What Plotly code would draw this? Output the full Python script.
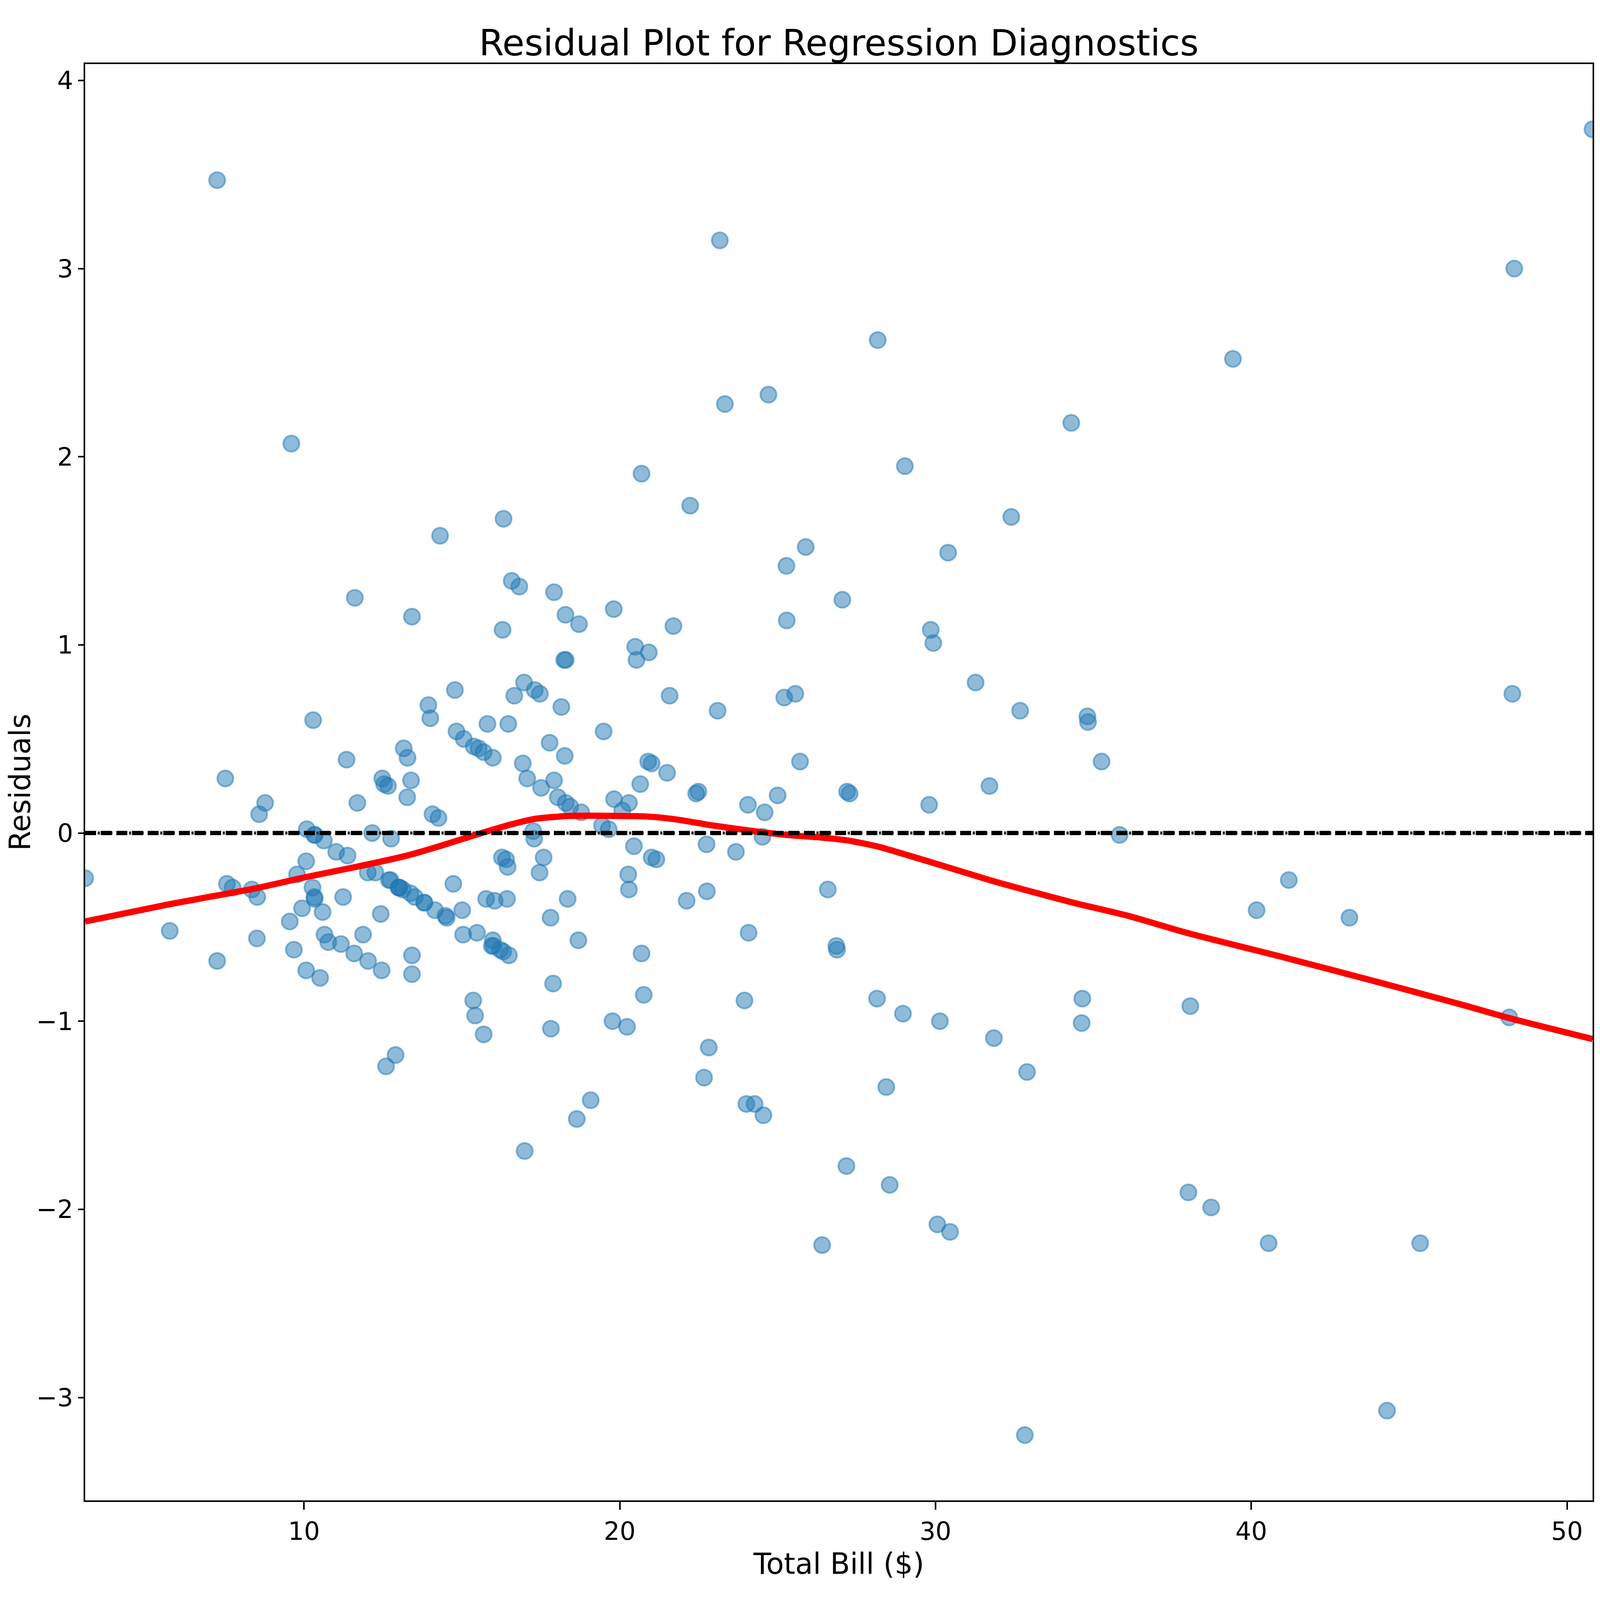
import plotly.graph_objects as go

# ---- data ----
total_bill = [16.99, 10.34, 21.01, 23.68, 24.59, 25.29, 8.77, 26.88, 15.04, 14.78,
              10.27, 35.26, 15.42, 18.43, 14.83, 21.58, 10.33, 16.29, 16.97, 20.65,
              17.92, 20.29, 15.77, 39.42, 19.82, 17.81, 13.37, 12.69, 21.70, 19.65,
              9.55, 18.35, 15.06, 20.69, 17.78, 24.06, 16.31, 16.93, 18.69, 31.27,
              16.04, 17.46, 13.94, 9.68, 30.40, 18.29, 22.23, 32.40, 28.55, 18.04,
              12.54, 10.29, 34.81, 9.94, 25.56, 19.49, 38.01, 26.41, 11.24, 48.27,
              20.29, 13.81, 11.02, 18.29, 17.59, 20.08, 16.45, 3.07, 20.23, 15.01,
              12.02, 17.07, 26.86, 25.28, 14.73, 10.51, 17.92, 27.20, 22.76, 17.29,
              19.44, 16.66, 10.07, 32.68, 15.98, 34.83, 13.03, 18.28, 24.71, 21.16,
              28.97, 22.49, 5.75, 16.32, 22.75, 40.17, 27.28, 12.03, 21.01, 12.46,
              11.35, 15.38, 44.30, 22.42, 20.92, 15.36, 20.49, 25.21, 18.24, 14.31,
              14.00, 7.25, 38.07, 23.95, 25.71, 17.31, 29.93, 10.65, 12.43, 24.08,
              11.69, 13.42, 14.26, 15.95, 12.48, 29.80, 8.52, 14.52, 11.38, 22.82,
              19.08, 20.27, 11.17, 12.26, 18.26, 8.51, 10.33, 14.15, 16.00, 13.16,
              17.47, 34.30, 41.19, 27.05, 16.43, 8.35, 18.64, 11.87, 9.78, 7.51,
              14.07, 13.13, 17.26, 24.55, 19.77, 29.85, 48.17, 25.00, 13.39, 16.49,
              21.50, 12.66, 16.21, 13.81, 17.51, 24.52, 20.76, 31.71, 10.59, 10.63,
              50.81, 15.81, 7.25, 31.85, 16.82, 32.90, 17.89, 14.48, 9.60, 34.63,
              34.65, 23.33, 45.35, 23.17, 40.55, 20.69, 20.90, 30.46, 18.15, 23.10,
              15.69, 19.81, 28.44, 15.48, 16.58, 7.56, 10.34, 43.11, 13.00, 13.51,
              18.71, 12.74, 13.00, 16.40, 20.53, 16.47, 26.59, 38.73, 24.27, 12.76,
              30.06, 25.89, 48.33, 13.27, 28.17, 12.90, 28.15, 11.59, 7.74, 30.14,
              12.16, 13.42, 8.58, 15.98, 13.42, 16.27, 10.09, 20.45, 13.28, 22.12,
              24.01, 15.69, 11.61, 10.77, 15.53, 10.07, 12.60, 32.83, 35.83, 29.03,
              27.18, 22.67, 17.82, 18.78]

residuals = [-1.69, -0.35, 0.37, -0.10, 0.11, 1.13, 0.16, -0.62, -0.54, 0.76,
             -0.29, 0.38, -0.97, 0.14, 0.54, 0.73, -0.34, 1.08, 0.80, 0.26,
             1.28, -0.30, -0.35, 2.52, 0.18, -0.45, -0.32, -0.25, 1.10, 0.02,
             -0.47, -0.35, 0.50, -0.64, 0.48, 0.15, -0.63, 0.37, -0.57, 0.80,
             -0.36, -0.21, 0.68, -0.62, 1.49, 0.16, 1.74, 1.68, -1.87, 0.19,
             0.26, 0.60, 0.62, -0.40, 0.74, 0.54, -1.91, -2.19, -0.34, 0.74,
             0.16, -0.37, -0.10, 0.92, -0.13, 0.12, -0.18, -0.24, -1.03, -0.41,
             -0.21, 0.29, -0.60, 1.42, -0.27, -0.77, 0.28, 0.22, -0.31, -0.03,
             0.04, 0.73, -0.15, 0.65, -0.57, 0.59, -0.29, 1.16, 2.33, -0.14,
             -0.96, 0.22, -0.52, 1.67, -0.06, -0.41, 0.21, -0.68, -0.13, -0.73,
             0.39, 0.46, -3.07, 0.21, 0.96, -0.89, 0.99, 0.72, 0.92, 1.58,
             0.61, -0.68, -0.92, -0.89, 0.38, 0.76, 1.01, -0.54, -0.43, -0.53,
             0.16, -0.65, 0.08, -0.60, 0.29, 0.15, -0.34, -0.45, -0.12, -1.14,
             -1.42, -0.22, -0.59, -0.21, 0.41, -0.56, -0.01, -0.41, -0.60, 0.45,
             0.74, 2.18, -0.25, 1.24, -0.35, -0.30, -1.52, -0.54, -0.22, 0.29,
             0.10, -0.30, 0.01, -1.50, -1.00, 1.08, -0.98, 0.20, 0.28, -0.65,
             0.32, 0.25, -0.62, -0.37, 0.24, -0.02, -0.86, 0.25, -0.42, -0.04,
             3.74, 0.58, 3.47, -1.09, 1.31, -1.27, -0.80, -0.44, 2.07, -1.01,
             -0.88, 2.28, -2.18, 3.15, -2.18, 1.91, 0.38, -2.12, 0.67, 0.65,
             -1.07, 1.19, -1.35, -0.53, 1.34, -0.27, -0.01, -0.45, -0.29, -0.34,
             1.11, -0.25, -0.29, -0.14, 0.92, 0.58, -0.30, -1.99, -1.44, -0.03,
             -2.08, 1.52, 3.00, 0.19, 2.62, -1.18, -0.88, -0.64, -0.29, -1.00,
             0.00, 1.15, 0.10, 0.40, -0.75, -0.13, 0.02, -0.07, 0.40, -0.36,
             -1.44, 0.43, 1.25, -0.58, 0.45, -0.73, -1.24, -3.20, -0.01, 1.95,
             -1.77, -1.30, -1.04, 0.11]

# lowess smoothing curve
lowess_x = [3.07, 5.75, 8.44, 10.04, 11.65, 13.26, 14.33, 15.51, 16.48, 17.34,
            18.41, 19.88, 20.92, 21.75, 22.99, 24.03, 25.27, 26.31, 27.24, 28.18,
            29.22, 30.25, 31.81, 32.85, 34.40, 36.10, 37.97, 40.87, 43.76, 46.66,
            48.18, 50.81]
lowess_y = [-0.470, -0.378, -0.295, -0.235, -0.180, -0.120, -0.068, -0.006, 0.042, 0.076,
            0.091, 0.091, 0.087, 0.073, 0.039, 0.015, -0.010, -0.023, -0.040, -0.072,
            -0.123, -0.175, -0.255, -0.303, -0.372, -0.440, -0.531, -0.654, -0.781, -0.912,
            -0.984, -1.095]

x_ticks = [10, 20, 30, 40, 50]
y_ticks = [-3, -2, -1, 0, 1, 2, 3, 4]

FONT = "DejaVu Sans"

x_range = [min(total_bill), max(total_bill)]
span = max(residuals) - min(residuals)
y_range = [min(residuals) - 0.05 * span, max(residuals) + 0.05 * span]

fig = go.Figure()

fig.add_trace(go.Scatter(
    x=total_bill, y=residuals, mode="markers",
    marker=dict(size=41, color="rgba(31,119,180,0.5)",
                line=dict(color="rgba(31,119,180,0.5)", width=4.6)),
    showlegend=False, hoverinfo="skip"))

# seaborn's dotted zero line
fig.add_trace(go.Scatter(
    x=x_range, y=[0, 0], mode="lines",
    line=dict(color="#333333", width=8, dash="6px,10px"),
    showlegend=False, hoverinfo="skip"))

fig.add_trace(go.Scatter(
    x=lowess_x, y=lowess_y, mode="lines",
    line=dict(color="red", width=16, shape="spline", smoothing=0.6),
    showlegend=False, hoverinfo="skip"))

# black dashed zero line
fig.add_trace(go.Scatter(
    x=x_range, y=[0, 0], mode="lines",
    line=dict(color="black", width=11, dash="28px,12px"),
    showlegend=False, hoverinfo="skip"))

axis_common = dict(
    showgrid=False, zeroline=False, showline=True, linecolor="black",
    linewidth=4, mirror=True, ticks="outside", tickwidth=4,
    tickcolor="black", tickfont=dict(family=FONT, size=64, color="black"),
    automargin=False,
)

fig.update_layout(
    autosize=True,
    margin=dict(l=210, r=27, t=156, b=263, pad=0),
    paper_bgcolor="white", plot_bgcolor="white",
    font=dict(family=FONT, color="black"),
    title=dict(text="Residual Plot for Regression Diagnostics",
               font=dict(family=FONT, size=92, color="black"),
               x=0.5, xref="paper", xanchor="center",
               y=1, yref="paper", yanchor="bottom", pad=dict(b=22)),
    xaxis=dict(range=x_range, tickvals=x_ticks, ticklen=20,
               title=dict(text="Total Bill ($)", font=dict(family=FONT, size=74, color="black"),
                          standoff=22),
               **axis_common),
    yaxis=dict(range=y_range, tickvals=y_ticks, ticklen=14,
               title=dict(text="Residuals", font=dict(family=FONT, size=74, color="black"),
                          standoff=18),
               **axis_common),
)

fig.write_html("out.html", config={"responsive": True},
               default_width="100vw", default_height="100vh")
